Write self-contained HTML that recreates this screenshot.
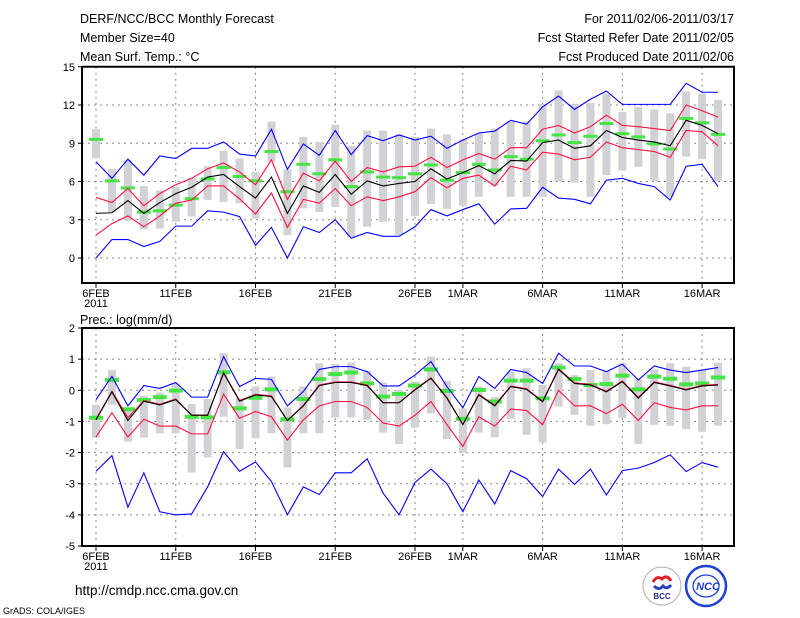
<!DOCTYPE html>
<html><head><meta charset="utf-8"><style>
body{margin:0;background:#fff;}
svg{display:block;font-family:"Liberation Sans",sans-serif;}
</style></head><body>
<svg id="chart" width="800" height="618" viewBox="0 0 800 618">
<g font-size="12.5" fill="#000">
<text x="80" y="23">DERF/NCC/BCC Monthly Forecast</text>
<text x="80" y="42">Member Size=40</text>
<text x="80" y="61">Mean Surf. Temp.: °C</text>
<text x="734" y="23" text-anchor="end">For 2011/02/06-2011/03/17</text>
<text x="734" y="42" text-anchor="end">Fcst Started Refer Date 2011/02/05</text>
<text x="734" y="61" text-anchor="end">Fcst Produced Date 2011/02/06</text>
<text x="80" y="324">Prec.: log(mm/d)</text>
<text x="75" y="595" font-size="13.5">http://cmdp.ncc.cma.gov.cn</text>
<text x="3" y="614" font-size="9">GrADS: COLA/IGES</text>
</g>
<g>
<circle cx="662" cy="586" r="19" fill="#fff" stroke="#bbb" stroke-width="1.2"/>
<path d="M653 582 q4 -7 9 -3 q5 -5 9 2" fill="none" stroke="#e02020" stroke-width="3"/>
<path d="M654 586 q5 5 9 0 q4 4 8 -1" fill="none" stroke="#2040c0" stroke-width="3"/>
<text x="662" y="599" font-size="8" font-weight="bold" text-anchor="middle" fill="#203080">BCC</text>
</g>
<g>
<circle cx="706" cy="586" r="20" fill="#fff" stroke="#2040d0" stroke-width="2.5"/>
<ellipse cx="706" cy="586" rx="13" ry="11" fill="none" stroke="#2040d0" stroke-width="1.3"/>
<text x="708" y="590" font-size="11" font-weight="bold" font-style="italic" text-anchor="middle" fill="#2040d0">NCC</text>
</g>
<g id="top"></g>
<g id="bot"></g>
</svg>
<script>
// ---- temperature panel data (Feb 6 - Mar 17 2011) ----
const tMean=[3.5,3.55,4.5,3.5,4.35,5.05,5.55,6.35,6.55,5.6,4.7,6.35,3.5,5.65,5.15,6.55,5.0,6.05,5.65,5.85,6.0,7.0,6.2,6.7,7.25,6.6,7.65,7.6,9.05,9.25,8.6,8.8,10.0,9.45,9.25,9.1,8.8,10.8,10.4,9.75];
const tRedHi=[4.75,4.35,5.45,4.1,5.05,5.75,6.25,7.0,7.45,6.75,5.75,7.7,4.6,6.65,6.05,7.6,6.0,7.1,6.75,7.15,7.2,7.9,7.1,7.7,8.2,7.75,8.65,8.65,10.1,10.4,9.8,10.3,11.2,10.4,10.3,10.15,10.0,12.0,11.55,11.05];
const tRedLo=[1.8,2.7,3.3,2.45,3.3,4.3,4.55,5.65,5.65,4.65,3.45,5.1,2.4,4.6,4.3,5.45,4.1,4.8,4.5,4.8,5.2,6.3,5.5,6.25,6.5,5.65,7.2,6.9,8.3,8.15,7.7,7.9,9.1,8.65,8.5,8.35,7.9,10.0,9.9,8.8];
const tBlueHi=[7.55,6.25,7.75,6.5,8.0,7.8,8.6,8.6,9.1,8.15,8.0,10.1,6.95,8.95,8.05,10.0,8.1,9.6,9.2,9.65,9.25,9.55,8.6,9.25,9.8,9.95,10.8,10.5,11.85,12.7,11.65,12.45,13.1,12.05,12.05,12.05,12.05,13.7,13.0,13.0];
const tBlueLo=[0,1.45,1.45,0.9,1.3,2.5,2.5,3.7,3.6,3.25,1.0,2.4,0,2.45,2.0,3.0,1.55,2.0,1.7,1.7,2.45,3.8,3.3,3.8,4.25,2.65,3.85,3.9,5.55,4.7,4.6,4.25,6.1,6.25,5.85,5.6,4.55,7.2,7.35,5.6];
const tGreen=[9.3,6.05,5.5,3.6,3.7,4.15,4.65,6.2,7.1,6.4,6.05,8.35,5.2,7.35,6.6,7.7,5.6,6.75,6.35,6.3,6.6,7.3,6.1,6.7,7.35,6.9,7.95,7.75,9.2,9.65,9.05,9.55,10.55,9.75,9.5,8.95,8.55,10.95,10.6,9.7];
const tMax=[10.1,7.0,7.7,5.65,5.3,5.6,6.3,7.2,8.4,7.8,6.75,10.7,6.95,9.5,9.1,10.45,8.8,10.0,10.0,9.7,9.5,10.15,9.7,9.3,9.75,10.15,10.7,10.7,12.1,13.15,12.1,12.15,12.9,11.45,11.85,11.65,11.35,13.05,12.9,12.4];
const tMin=[7.85,3.6,2.9,2.25,2.3,2.85,3.25,4.55,4.4,4.3,3.1,7.55,1.8,3.9,3.6,4.0,1.65,2.45,2.85,1.8,3.3,4.25,3.85,4.1,4.8,5.65,4.8,4.8,4.8,6.05,5.9,4.8,6.5,6.85,7.15,6.05,4.8,7.95,7.75,6.05];
const tTicks=[0,3,6,9,12,15];
// ---- precipitation panel data ----
const pMean=[-0.95,-0.05,-0.97,-0.35,-0.47,-0.3,-0.8,-0.8,0.55,-0.35,-0.15,-0.2,-0.97,-0.5,0.15,0.25,0.25,0.15,-0.4,-0.4,0.01,0.385,-0.25,-1.1,-0.15,-0.5,0.12,0.03,-0.37,0.67,0.22,0.17,-0.05,0.28,-0.25,0.25,0.14,0.01,0.14,0.17];
const pRedHi=[-0.93,-0.03,-0.88,-0.33,-0.45,-0.28,-0.8,-0.8,0.57,-0.33,-0.13,-0.18,-0.97,-0.48,0.17,0.27,0.27,0.17,-0.4,-0.4,0.03,0.4,-0.23,-1.1,-0.13,-0.48,0.14,0.05,-0.35,0.69,0.24,0.19,-0.03,0.3,-0.23,0.27,0.16,0.03,0.16,0.19];
const pRedLo=[-1.5,-0.72,-1.5,-0.93,-1.15,-1.15,-1.4,-1.4,-0.12,-0.9,-0.68,-0.85,-1.6,-0.95,-0.5,-0.36,-0.36,-0.55,-1.05,-1.15,-0.8,-0.36,-1.1,-1.8,-0.85,-1.15,-0.6,-0.65,-1.1,0,-0.5,-0.5,-0.75,-0.45,-0.97,-0.4,-0.55,-0.63,-0.5,-0.5];
const pBlueHi=[-0.3,0.45,-0.5,0.15,0.06,0.25,-0.22,-0.22,1.08,0.12,0.38,0.35,-0.5,-0.04,0.67,0.76,0.76,0.6,0.14,0.14,0.49,0.92,0.12,-0.56,0.44,0.06,0.67,0.57,0.22,1.19,0.78,0.78,0.6,0.84,0.33,0.78,0.65,0.57,0.65,0.73];
const pBlueLo=[-2.6,-2.1,-3.75,-2.65,-3.9,-4.0,-3.97,-3.1,-1.97,-2.6,-2.3,-2.93,-4.0,-3.1,-3.35,-2.65,-2.65,-2.2,-3.3,-4.0,-2.96,-2.53,-3.0,-3.9,-2.88,-3.65,-2.58,-2.84,-3.41,-2.53,-3.02,-2.53,-3.36,-2.58,-2.5,-2.32,-2.07,-2.61,-2.32,-2.47];
const pGreen=[-0.88,0.33,-0.61,-0.31,-0.22,-0.01,-0.85,-0.87,0.58,-0.58,-0.24,0.03,-0.93,-0.28,0.36,0.52,0.57,0.22,-0.2,-0.12,0.15,0.67,-0.02,-0.92,0.01,-0.36,0.31,0.31,-0.26,0.73,0.36,0.17,0.2,0.47,0.03,0.44,0.37,0.19,0.22,0.41];
const pMax=[-0.47,0.65,-0.55,-0.18,-0.07,0.22,-0.44,-0.28,1.19,-0.26,0.12,0.44,-0.55,0.12,0.87,0.84,0.89,0.63,0.25,0.01,0.28,1.08,0.3,-0.58,0.12,-0.22,0.6,0.71,0.17,0.87,0.49,0.65,0.6,0.87,0.35,0.67,0.87,0.76,0.67,0.89];
const pMin=[-1.52,-0.47,-1.65,-1.52,-1.38,-1.38,-2.64,-2.16,-0.85,-1.89,-1.54,-1.38,-2.48,-1.38,-1.38,-0.87,-0.87,-0.95,-1.36,-1.73,-1.2,-0.74,-1.57,-2.0,-1.36,-1.51,-0.92,-1.43,-1.68,-0.52,-0.79,-1.14,-1.09,-0.88,-1.72,-1.11,-1.14,-1.25,-1.33,-1.14];
const pTicks=[-5,-4,-3,-2,-1,0,1,2];
// ---- x axis ----
const xLabelDays=[0,5,10,15,20,23,28,33,38];
const xLabels=["6FEB","11FEB","16FEB","21FEB","26FEB","1MAR","6MAR","11MAR","16MAR"];

const NS="http://www.w3.org/2000/svg";
const X0=82,X1=734;
const xs=d=>96+15.95*d;
function mk(parent,tag,attrs){const e=document.createElementNS(NS,tag);for(const k in attrs)e.setAttribute(k,attrs[k]);parent.appendChild(e);return e;}

function panel(g,top,bot,vmin,vmax,ticks,series,pname,gh){
  const ys=v=>bot-(v-vmin)/(vmax-vmin)*(bot-top);
  ticks.forEach(t=>{
    if(t>vmin&&t<vmax){const l=mk(g,'line',{x1:X0,x2:X1,y1:ys(t),y2:ys(t),stroke:'#888','stroke-dasharray':'2,4','stroke-width':1});
    
    }
    const tx=mk(g,'text',{x:X0-7,y:ys(t)+4,'text-anchor':'end','font-size':11});
    tx.textContent=t;
    
    
    mk(g,'line',{x1:X0-4,x2:X0,y1:ys(t),y2:ys(t),stroke:'#000'});
  });
  xLabelDays.forEach((d,i)=>{
    const l=mk(g,'line',{x1:xs(d),x2:xs(d),y1:top,y2:bot,stroke:'#888','stroke-dasharray':'2,4','stroke-width':1});
    
    
    mk(g,'line',{x1:xs(d),x2:xs(d),y1:bot,y2:bot+5,stroke:'#000'});
    const tx=mk(g,'text',{x:xs(d),y:bot+14,'text-anchor':'middle','font-size':11});
    tx.textContent=xLabels[i];
    
    
  });
  const yr=mk(g,'text',{x:xs(0),y:bot+24,'text-anchor':'middle','font-size':11});
  yr.textContent='2011';
  
  
  series.max.forEach((v,d)=>{
    const r=mk(g,'rect',{x:xs(d)-4,y:ys(v),width:8,height:Math.max(1,ys(series.min[d])-ys(v)),fill:'#d2d2d6'});
    
    
  });
  series.green.forEach((v,d)=>{
    const r=mk(g,'rect',{x:xs(d)-7,y:ys(v)-gh/2,width:14,height:gh,fill:'#44e444'});
    
    
  });
  const lines=[[series.blueHi,'#0000ff','blue-upper'],[series.blueLo,'#0000ff','blue-lower'],[series.redLo,'#ff1040','red-lower'],[series.redHi,'#ff1040','red-upper'],[series.mean,'#000','ensemble-mean']];
  lines.forEach(([arr,c,n])=>{
    const p=mk(g,'polyline',{points:arr.map((v,d)=>xs(d)+','+ys(v)).join(' '),fill:'none',stroke:c,'stroke-width':1.1});
    
    
  });
  const f=mk(g,'rect',{x:X0,y:top,width:X1-X0,height:bot-top,fill:'none',stroke:'#000','stroke-width':2});
  
  
}
const gt=document.getElementById('top');


panel(gt,66.75,283,-1.96,15,tTicks,{mean:tMean,redHi:tRedHi,redLo:tRedLo,blueHi:tBlueHi,blueLo:tBlueLo,green:tGreen,max:tMax,min:tMin},'temp',3);
const gb=document.getElementById('bot');


panel(gb,328,546,-5,2,pTicks,{mean:pMean,redHi:pRedHi,redLo:pRedLo,blueHi:pBlueHi,blueLo:pBlueLo,green:pGreen,max:pMax,min:pMin},'precip',4);
</script>
</body></html>
